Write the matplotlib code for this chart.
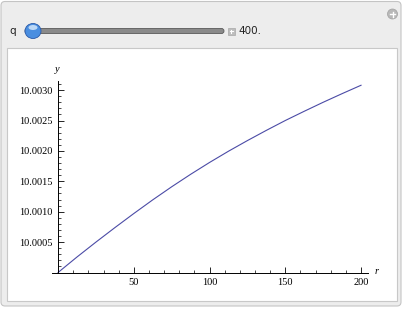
import matplotlib
matplotlib.use('Agg')
import matplotlib.pyplot as plt
from matplotlib.patches import FancyBboxPatch, Rectangle, Circle, Ellipse
from matplotlib.ticker import FixedLocator, MultipleLocator

# values
r_vals = [0, 12.5, 25, 37.5, 50, 62.5, 75, 87.5, 100, 112.5, 125, 137.5, 150, 162.5, 175, 187.5, 200]
y_vals = [10.0, 10.000255, 10.000500, 10.000738, 10.000970, 10.001195, 10.001410, 10.001615,
          10.001810, 10.001995, 10.002170, 10.002338, 10.002500, 10.002652, 10.002800, 10.002942,
          10.003080]
x_ticks = [50, 100, 150, 200]
y_ticks = [10.0005, 10.0010, 10.0015, 10.0020, 10.0025, 10.0030]
y_tick_labels = ['10.0005', '10.0010', '10.0015', '10.0020', '10.0025', '10.0030']
q_value = '400.'

W, H = 403, 309
fig = plt.figure(figsize=(W / 100, H / 100), dpi=100)

# panel chrome (Manipulate frame), drawn in pixel coords
bg = fig.add_axes([0, 0, 1, 1])
bg.set_xlim(0, W)
bg.set_ylim(H, 0)
bg.axis('off')
bg.add_patch(FancyBboxPatch((1, 1.5), 400, 304.5, boxstyle='round,pad=0,rounding_size=4',
                            facecolor='#ededed', edgecolor='#c4c4c4', lw=0.8))
bg.add_patch(Rectangle((7, 48), 389.5, 253, facecolor='white', edgecolor='#c8c8c8', lw=0.8))

# slider
bg.text(13, 31, 'q', fontsize=7.5, family='DejaVu Sans', va='center', ha='center', color='#222222')
bg.add_patch(FancyBboxPatch((25, 28.5), 199, 5, boxstyle='round,pad=0,rounding_size=2.5',
                            facecolor='#8a8a8a', edgecolor='#5a5a5a', lw=0.6))
bg.add_patch(Ellipse((33, 31), 16, 15, facecolor='#4a8ee0', edgecolor='#2a5aa8', lw=0.6))
bg.add_patch(Ellipse((33, 27.5), 9, 5, facecolor='#bcd8f6', edgecolor='none'))
bg.add_patch(Rectangle((227.5, 27.5), 7, 7, facecolor='#bdbdbd', edgecolor='#a8a8a8', lw=0.5))
bg.plot([229.5, 232.5], [31, 31], color='white', lw=0.8)
bg.plot([231, 231], [29.5, 32.5], color='white', lw=0.8)
bg.text(238, 31, q_value, fontsize=7.5, family='DejaVu Sans', va='center', ha='left', color='#222222')
bg.add_patch(Circle((392.5, 14), 5, facecolor='#b8b8b8', edgecolor='#a0a0a0', lw=0.5))
bg.plot([390, 395], [14, 14], color='white', lw=1.0)
bg.plot([392.5, 392.5], [11.5, 16.5], color='white', lw=1.0)

# axis labels
bg.text(57, 69, 'y', fontsize=7.5, family='Liberation Serif', style='italic', ha='center', va='center')
bg.text(377, 271, 'r', fontsize=7.5, family='Liberation Serif', style='italic', ha='center', va='center')

# the plot itself
x0, x1 = 52, 368
y0, y1 = 272.5, 81
ax = fig.add_axes([x0 / W, 1 - y0 / H, (x1 - x0) / W, (y0 - y1) / H])
ax.patch.set_alpha(0)
ax.plot(r_vals, y_vals, color='#4b4ba6', lw=0.8)
ax.set_xlim(-4, 204.6)
ax.set_ylim(10.0, 10.00315)

ax.spines['top'].set_visible(False)
ax.spines['right'].set_visible(False)
ax.spines['left'].set_position(('data', 0))
ax.spines['bottom'].set_position(('data', 10.0))
for s in ('left', 'bottom'):
    ax.spines[s].set_linewidth(0.7)

ax.xaxis.set_major_locator(FixedLocator(x_ticks))
ax.xaxis.set_minor_locator(MultipleLocator(10))
ax.yaxis.set_major_locator(FixedLocator(y_ticks))
ax.set_yticklabels(y_tick_labels)
ax.yaxis.set_minor_locator(FixedLocator([10.0 + 0.0001 * i for i in range(1, 32)]))

ax.tick_params(which='major', direction='in', length=4, width=0.6, labelsize=7.5, pad=4)
ax.tick_params(which='minor', direction='in', length=2.2, width=0.5)
for lab in ax.get_xticklabels() + ax.get_yticklabels():
    lab.set_family('Liberation Serif')

fig.savefig('out.png', dpi=100)
